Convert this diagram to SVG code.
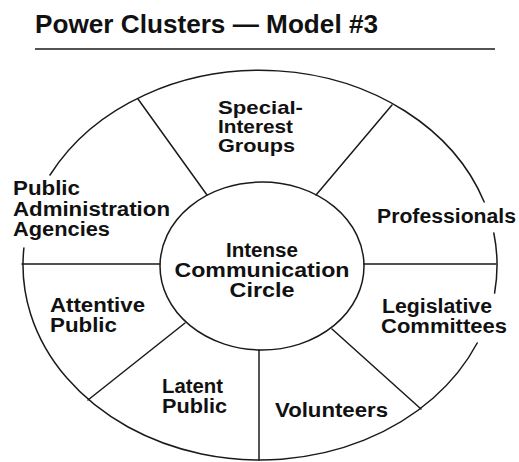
<svg xmlns="http://www.w3.org/2000/svg" width="519" height="462" viewBox="0 0 519 462">
  <style>
    .ln { fill: none; stroke: #1a1a1a; stroke-width: 1.5; stroke-linecap: round; }
    .lbl { font-family: "Liberation Sans", Arial, sans-serif; font-weight: bold; font-size: 20px; fill: #111; }
    .sm { font-size: 19px; }
    .ctr { font-family: "Liberation Sans", Arial, sans-serif; font-weight: bold; font-size: 20px; fill: #111; text-anchor: middle; }
    .title { font-family: "Liberation Sans", Arial, sans-serif; font-weight: bold; font-size: 26px; fill: #111; }
  </style>
  <rect width="519" height="462" fill="#ffffff"/>

  <g id="title">
    <text class="title" x="35" y="33" textLength="343" lengthAdjust="spacingAndGlyphs">Power Clusters — Model #3</text>
    <line x1="35" y1="49" x2="495" y2="49" stroke="#1a1a1a" stroke-width="1.6"/>
  </g>

  <g id="connectors">
    <path class="ln" d="M50,175 A237,195 0 0 1 484.2,202 M493.8,233 A237,195 0 0 1 494.6,293 M477.2,343 A237,195 0 0 1 23.9,248"/>
    <line class="ln" x1="138" y1="99" x2="207" y2="195"/>
    <line class="ln" x1="392" y1="105" x2="316" y2="195"/>
    <line class="ln" x1="22" y1="264" x2="160" y2="264"/>
    <line class="ln" x1="364" y1="264" x2="496" y2="264"/>
    <line class="ln" x1="185" y1="323" x2="88" y2="400"/>
    <line class="ln" x1="259" y1="350" x2="259" y2="460"/>
    <line class="ln" x1="332" y1="329" x2="421" y2="409"/>
  </g>

  <g id="center">
    <ellipse class="ln" cx="262" cy="266" rx="102" ry="84"/>
    <text class="ctr" x="262" y="257" textLength="72" lengthAdjust="spacingAndGlyphs">Intense</text>
    <text class="ctr" x="262" y="277" textLength="175" lengthAdjust="spacingAndGlyphs">Communication</text>
    <text class="ctr" x="262" y="297" textLength="65" lengthAdjust="spacingAndGlyphs">Circle</text>
  </g>

  <g id="special-interest-groups">
    <text class="lbl sm" x="218" y="114" textLength="85" lengthAdjust="spacingAndGlyphs">Special-</text>
    <text class="lbl sm" x="218" y="133" textLength="75" lengthAdjust="spacingAndGlyphs">Interest</text>
    <text class="lbl sm" x="218" y="152" textLength="77" lengthAdjust="spacingAndGlyphs">Groups</text>
  </g>

  <g id="public-administration-agencies">
    <text class="lbl" x="13" y="195" textLength="67" lengthAdjust="spacingAndGlyphs">Public</text>
    <text class="lbl" x="13" y="216" textLength="157" lengthAdjust="spacingAndGlyphs">Administration</text>
    <text class="lbl" x="13" y="236" textLength="97" lengthAdjust="spacingAndGlyphs">Agencies</text>
  </g>

  <g id="professionals">
    <text class="lbl" x="377" y="223" textLength="139" lengthAdjust="spacingAndGlyphs">Professionals</text>
  </g>

  <g id="attentive-public">
    <text class="lbl" x="50" y="312" textLength="95" lengthAdjust="spacingAndGlyphs">Attentive</text>
    <text class="lbl" x="50" y="332" textLength="67" lengthAdjust="spacingAndGlyphs">Public</text>
  </g>

  <g id="latent-public">
    <text class="lbl" x="162" y="393" textLength="61" lengthAdjust="spacingAndGlyphs">Latent</text>
    <text class="lbl" x="162" y="413" textLength="65" lengthAdjust="spacingAndGlyphs">Public</text>
  </g>

  <g id="volunteers">
    <text class="lbl" x="275" y="417" textLength="113" lengthAdjust="spacingAndGlyphs">Volunteers</text>
  </g>

  <g id="legislative-committees">
    <text class="lbl" x="382" y="313" textLength="110" lengthAdjust="spacingAndGlyphs">Legislative</text>
    <text class="lbl" x="381" y="333" textLength="126" lengthAdjust="spacingAndGlyphs">Committees</text>
  </g>
</svg>
